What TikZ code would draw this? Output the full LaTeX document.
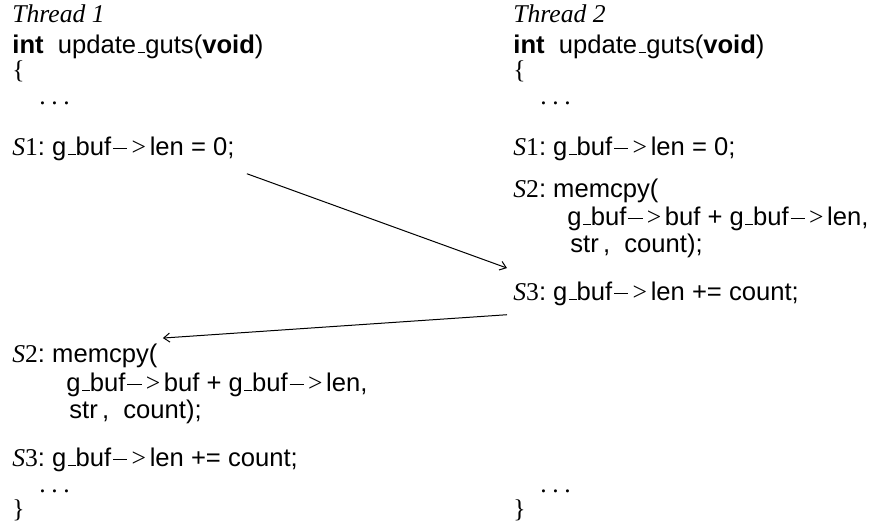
\documentclass[tikz,border=0pt]{standalone}
\usepackage{fontspec}
\setmainfont{Liberation Serif}
\setsansfont{Liberation Sans}
\usetikzlibrary{arrows.meta}
% short low rule, as in the classic \_
\newcommand\us{\leavevmode\kern.06em\vbox{\hrule width.3em}}
% pointer arrow "->": a math-style minus bar followed by a serif ">"
\newcommand\ptr{{\rmfamily\kern.07em\rule[.245em]{.56em}{.045em}\kern.17em>\kern.14em}}
% statement label S<n>:
\newcommand\stlabel[1]{{\rmfamily\itshape S}{\rmfamily #1}:\ }
% spaced ellipsis
\newcommand\spdots{.\kern.22em.\kern.22em.}
\begin{document}
\begin{tikzpicture}[x=0.5pt,y=-0.5pt,
  line/.style={inner sep=0pt,anchor=base west,font=\sffamily\fontsize{12.8}{15}\selectfont},
  thr/.style={line,font=\rmfamily\itshape\fontsize{12.8}{15}\selectfont},
  brace/.style={line,font=\rmfamily\fontsize{12.8}{15}\selectfont},
  conn/.style={line width=0.5pt,-{Straight Barb[length=3pt,width=4.5pt]}}]
\useasboundingbox (0,0) rectangle (875,527);

% Thread 1
\node[thr]   (t1)   at (12,22)  {Thread 1};
\node[line]  (h1)   at (12,53)  {\textbf{int}\ \ update\us guts(\textbf{void})};
\node[brace] (ob1)  at (12,78)  {\{};
\node[brace] (d1a)  at (39,104) {\spdots};
\node[line]  (l1)   at (12,155) {\stlabel{1}g\us buf\ptr len = 0;};
\node[line]  (l2)   at (12,362) {\stlabel{2}memcpy(};
\node[line]  (l2b)  at (66,391) {g\us buf\ptr buf + g\us buf\ptr len,};
\node[line]  (l2c)  at (69,418) {str\,,\ \ count);};
\node[line]  (l3)   at (12,466) {\stlabel{3}g\us buf\ptr len += count;};
\node[brace] (d1b)  at (39,492) {\spdots};
\node[brace] (cb1)  at (12,517) {\}};

% Thread 2
\node[thr]   (t2)   at (513,22)  {Thread 2};
\node[line]  (h2)   at (513,53)  {\textbf{int}\ \ update\us guts(\textbf{void})};
\node[brace] (ob2)  at (513,78)  {\{};
\node[brace] (d2a)  at (540,104) {\spdots};
\node[line]  (r1)   at (513,155) {\stlabel{1}g\us buf\ptr len = 0;};
\node[line]  (r2)   at (513,197) {\stlabel{2}memcpy(};
\node[line]  (r2b)  at (567,225) {g\us buf\ptr buf + g\us buf\ptr len,};
\node[line]  (r2c)  at (570,252) {str\,,\ \ count);};
\node[line]  (r3)   at (513,300) {\stlabel{3}g\us buf\ptr len += count;};
\node[brace] (d2b)  at (540,492) {\spdots};
\node[brace] (cb2)  at (513,517) {\}};

% interleaving order
\draw[conn] ([shift={(12,13)}]l1.south east) -- ([shift={(-6,-13)}]r3.north west);
\draw[conn] ([shift={(-6,9)}]r3.south west) -- ([shift={(5,-5)}]l2.north east);
\end{tikzpicture}
\end{document}
